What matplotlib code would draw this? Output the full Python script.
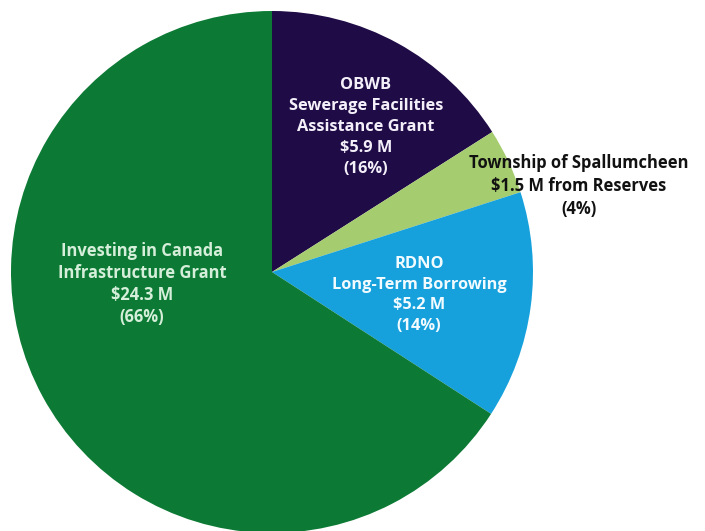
import matplotlib.pyplot as plt

# funding sources, $ millions
sources = ['OBWB\nSewerage Facilities\nAssistance Grant',
           'Township of Spallumcheen',
           'RDNO\nLong-Term Borrowing',
           'Investing in Canada\nInfrastructure Grant']
amounts = [5.9, 1.5, 5.2, 24.3]
shares = [16, 4, 14, 66]
colors = ['#1f0b46', '#a5cc6e', '#16a1dd', '#0c7a34']
text_colors = ['#f4f0fa', '#111111', '#f2fbff', '#d6efda']

W, H = 705, 531
fig = plt.figure(figsize=(W / 100, H / 100), dpi=100)
ax = fig.add_axes([0, 0, 1, 1])

cx, cy, r = 272, H - 272, 261
ax.pie(amounts, colors=colors, startangle=90, counterclock=False,
       center=(cx, cy), radius=r, wedgeprops=dict(linewidth=0))
ax.set_xlim(0, W)
ax.set_ylim(0, H)
ax.set_aspect('equal')
ax.axis('off')

labels = []
for name, amt, pct in zip(sources, amounts, shares):
    if name.startswith('Township'):
        labels.append(f'{name}\n${amt} M from Reserves\n({pct}%)')
    else:
        labels.append(f'{name}\n${amt} M\n({pct}%)')

# label anchor positions (pixel coords from top-left)
label_pos = [(366, 127), (579, 186), (419, 295), (142, 284)]
sizes = [11.8, 11.9, 11.8, 11.9]
spacing = [1.42, 1.39, 1.4, 1.27]
for lab, (x, y), tc, fs, ls in zip(labels, label_pos, text_colors, sizes, spacing):
    ax.text(x, H - y, lab, ha='center', va='center', color=tc,
            fontsize=fs, fontweight='bold', family=['Open Sans', 'DejaVu Sans'],
            linespacing=ls)

fig.savefig('out.png', dpi=100)
